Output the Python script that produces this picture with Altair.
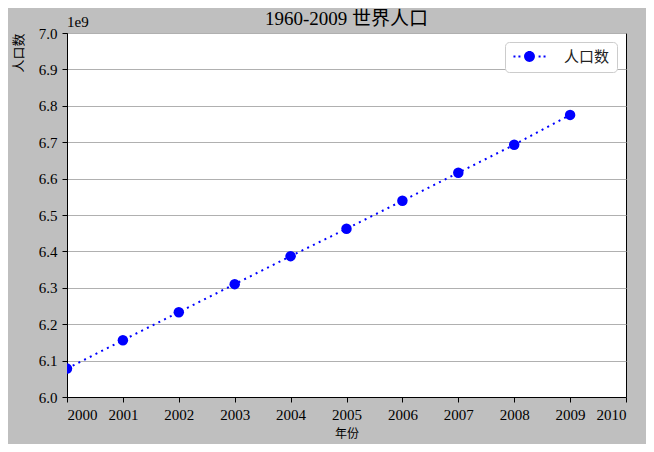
import altair as alt
import pandas as pd

years = [2000, 2001, 2002, 2003, 2004, 2005, 2006, 2007, 2008, 2009]
population_1e9 = [6.078, 6.156, 6.233, 6.310, 6.387, 6.462, 6.539, 6.616, 6.693, 6.775]
series_name = "人口数"
x_ticks = list(range(2000, 2011))
y_ticks = [round(6.0 + 0.1 * i, 1) for i in range(11)]

df = pd.DataFrame({"年份": years, "人口数": population_1e9, "series": [series_name] * len(years)})

SERIF = "'Liberation Serif', 'Noto Sans CJK SC', serif"
CJK = "'Noto Sans CJK SC', sans-serif"

# custom legend symbol: dotted line + circle marker (symbolSize 100 -> unit 5px, spans 32px)
k = 3.2
r = 0.34 * k
path = f"M-{r:.3f},0A{r:.3f},{r:.3f},0,1,1,{r:.3f},0A{r:.3f},{r:.3f},0,1,1,-{r:.3f},0Z"
d = 0.2
for c in [-0.94, -0.63, 0.63, 0.94]:
    cx = c * k
    path += f"M{cx-d:.3f},-{d}h{2*d}v{2*d}h-{2*d}Z"

x_enc = alt.X("年份:Q", scale=alt.Scale(domain=[2000, 2010], nice=False, zero=False),
              axis=alt.Axis(values=x_ticks, format="d", grid=False, title="年份",
                            tickCount=20, labelOverlap=False,
                            titleFont=CJK, titleFontSize=12, titleFontWeight="normal",
                            titlePadding=6))
y_enc = alt.Y("人口数:Q", scale=alt.Scale(domain=[6.0, 7.0], nice=False, zero=False),
              axis=alt.Axis(values=y_ticks, format=".1f", grid=True, title="人口数",
                            tickCount=20, labelOverlap=False,
                            titleFont=CJK, titleFontSize=13, titleFontWeight="normal",
                            titleAnchor="end", titlePadding=13))

base = alt.Chart(df)

line = base.mark_line(color="blue", strokeDash=[2, 4.4], strokeWidth=2, clip=True).encode(
    x=x_enc, y=y_enc
)

points = base.mark_point(filled=True, size=110, opacity=1, clip=True).encode(
    x=x_enc, y=y_enc,
    color=alt.Color("series:N", scale=alt.Scale(domain=[series_name], range=["blue"]),
                    legend=alt.Legend(title=None, orient="top-right", offset=9,
                                      symbolType=path, symbolSize=100,
                                      symbolOffset=10,
                                      symbolFillColor="blue", symbolStrokeWidth=0,
                                      labelFont=CJK, labelFontSize=15, labelColor="#222",
                                      labelOffset=27, padding=7, fillColor="white",
                                      strokeColor="#cccccc", cornerRadius=4))
)

exp_label = alt.Chart(pd.DataFrame({"t": ["1e9"]})).mark_text(
    align="left", baseline="bottom", dy=-3, font=SERIF, fontSize=15, color="black"
).encode(x=alt.datum(2000), y=alt.datum(7.0), text="t:N")

chart = alt.layer(line, points, exp_label).properties(
    width=559, height=364,
    title=alt.TitleParams("1960-2009 世界人口", font=SERIF, fontSize=19,
                          fontWeight="normal", color="black", anchor="middle",
                          offset=8, dy=22),
    autosize=alt.AutoSizeParams(type="none"),
    padding={"left": 59, "top": 25, "right": 20, "bottom": 47},
    background="#bfbfbf",
).configure_view(
    fill="white", stroke="black", strokeWidth=1
).configure_axis(
    domainColor="black", tickColor="black", tickSize=5, labelColor="black",
    labelFont=SERIF, labelFontSize=15, gridColor="#b0b0b0", gridWidth=1,
    titleColor="black", labelPadding=5
)

chart.save("out.html", embed_options={"renderer": "svg", "actions": False})
